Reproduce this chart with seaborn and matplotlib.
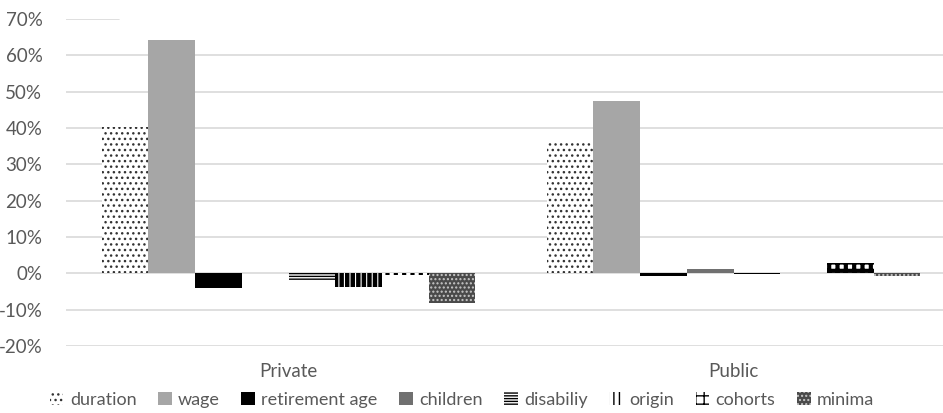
import matplotlib
matplotlib.use("Agg")
import matplotlib.pyplot as plt
import matplotlib.patches as mpatches
import pandas as pd
import seaborn as sns

# Decomposition of the pension gap by factor, per sector (in %)
sectors = ["Private", "Public"]
factors = ["duration", "wage", "retirement age", "children",
           "disabiliy", "origin", "cohorts", "minima"]
private_vals = [40.3, 64.3, -3.9, 0.0, -1.8, -3.7, -0.5, -8.3]
public_vals = [35.8, 47.3, -0.7, 1.3, -0.2, 0.0, 2.9, -0.8]
y_ticks = [-20, -10, 0, 10, 20, 30, 40, 50, 60, 70]

df = pd.DataFrame({
    "sector": [s for s in sectors for _ in factors],
    "factor": factors * len(sectors),
    "value": private_vals + public_vals,
})

# fill styles per factor: face colour, hatch colour, hatch pattern, hatch width
styles = {
    "duration":       ("white",   "#333333", "...",    1.0),
    "wage":           ("#a6a6a6", "#a6a6a6", None,     1.0),
    "retirement age": ("black",   "black",   None,     1.0),
    "children":       ("#707070", "#707070", None,     1.0),
    "disabiliy":      ("white",   "black",   "------", 1.0),
    "origin":         ("white",   "black",   "|||",    3.2),
    "cohorts":        ("white",   "black",   "++",     3.0),
    "minima":         ("#4a4a4a", "#c8c8c8", "....",   1.0),
}

sns.set_theme(style="white")
plt.rcParams["font.family"] = ["Lato", "DejaVu Sans"]
text_color = "#595959"
grid_color = "#d9d9d9"

fig = plt.figure(figsize=(9.43, 4.13), dpi=100)
ax = fig.add_axes([66 / 943, 67 / 413, 890 / 943, 327 / 413])

sns.barplot(data=df, x="sector", y="value", hue="factor",
            hue_order=factors, order=sectors, width=0.84,
            saturation=1, errorbar=None, legend=False, ax=ax, zorder=3)

for name, container in zip(factors, ax.containers):
    face, hcol, hatch, hlw = styles[name]
    for bar in container:
        bar.set_facecolor(face)
        bar.set_edgecolor(hcol)
        bar.set_linewidth(0)
        if hatch:
            bar.set_hatch(hatch)
            try:
                bar.set_hatch_linewidth(hlw)
            except AttributeError:
                pass

ax.set_ylim(-20, 70)
ax.set_xlim(-0.5, 1.5)
ax.set_yticks(y_ticks)
ax.set_yticklabels([f"{t}%" for t in y_ticks])

# horizontal gridlines; the top one is only a short stub
for t in y_ticks[:-1]:
    ax.axhline(t, color=grid_color, lw=1.2, zorder=1)
ax.axhline(70, xmin=0, xmax=0.06, color=grid_color, lw=1.2, zorder=1)

for s in ax.spines.values():
    s.set_visible(False)
ax.tick_params(axis="y", length=0, pad=17, labelsize=13.5, labelcolor=text_color)
ax.tick_params(axis="x", length=0, pad=12, labelsize=13.5, labelcolor=text_color)
ax.set_xlabel("")
ax.set_ylabel("")
ax.grid(False)

handles = []
for name in factors:
    face, hcol, hatch, hlw = styles[name]
    handles.append(mpatches.Patch(facecolor=face, edgecolor=hcol,
                                  hatch=hatch, linewidth=0, label=name))
fig.legend(handles=handles, loc="center", bbox_to_anchor=(0.49, 0.032),
           ncol=8, frameon=False, fontsize=13, labelcolor=text_color,
           handlelength=0.75, handleheight=0.75, handletextpad=0.35,
           columnspacing=1.2, borderpad=0)

fig.savefig("out.png", dpi=100)
